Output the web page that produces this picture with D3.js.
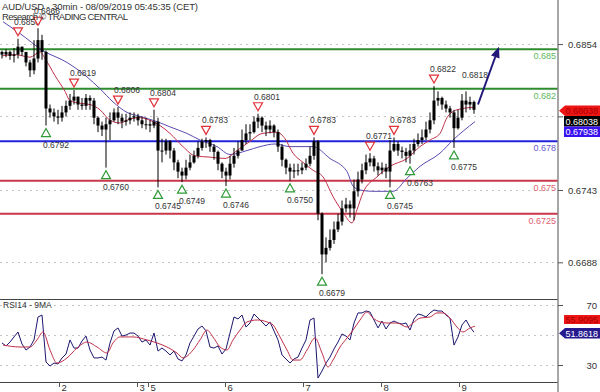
<!DOCTYPE html>
<html><head><meta charset="utf-8">
<script src="https://cdn.jsdelivr.net/npm/d3@7"></script>
<style>body{margin:0;background:#fff;}svg{display:block;font-family:"Liberation Sans",Arial,sans-serif;}</style>
</head><body><svg id="c" width="600" height="392"></svg>
<script>
// ---------- DATA ----------
const title = "AUD/USD - 30min - 08/09/2019 05:45:35 (CET)";
const subtitle = "Research \u00A9 TRADING CENTRAL";
const firstOpen = 0.6848;
const closes = [0.6846,0.6848,0.6845,0.6846,0.6852,0.6848,0.6840,0.6834,0.6843,0.6857,
 0.6848,0.6805,0.6802,0.6799,0.6798,0.6802,0.6807,0.6811,0.6814,0.6808,
 0.6807,0.6813,0.6811,0.6798,0.6792,0.6789,0.6793,0.6796,0.6802,0.6798,
 0.6795,0.6796,0.6798,0.6799,0.6796,0.6793,0.6793,0.6792,0.6795,0.6773,
 0.6773,0.6780,0.6773,0.6764,0.6757,0.6754,0.6760,0.6764,0.6769,0.6775,
 0.6780,0.6781,0.6776,0.6772,0.6763,0.6757,0.6754,0.6763,0.6769,0.6773,
 0.6781,0.6786,0.6787,0.6795,0.6798,0.6792,0.6789,0.6792,0.6787,0.6776,
 0.6766,0.6760,0.6757,0.6758,0.6758,0.6760,0.6763,0.6769,0.6780,0.6725,
 0.6694,0.6699,0.6705,0.6713,0.6719,0.6729,0.6732,0.6729,0.6742,0.6751,
 0.6758,0.6764,0.6767,0.6761,0.6758,0.6760,0.6757,0.6773,0.6778,0.6773,
 0.6772,0.6769,0.6773,0.6778,0.6781,0.6783,0.6789,0.6796,0.6811,0.6813,
 0.6808,0.6805,0.6802,0.6790,0.6798,0.6811,0.6808,0.6810,0.6804];
const highs = [0.6849,0.6850,0.6849,0.6851,0.6858,0.6852,0.6848,0.6842,0.6857,0.6866,
 0.6861,0.6849,0.6808,0.6805,0.6804,0.6807,0.6811,0.6816,0.6819,0.6814,
 0.6813,0.6816,0.6815,0.6813,0.6799,0.6795,0.6798,0.6802,0.6805,0.6806,
 0.6801,0.6801,0.6802,0.6802,0.6801,0.6799,0.6798,0.6796,0.6804,0.6798,
 0.6782,0.6782,0.6781,0.6775,0.6766,0.6760,0.6766,0.6770,0.6773,0.6780,
 0.6782,0.6783,0.6782,0.6778,0.6773,0.6764,0.6760,0.6769,0.6775,0.6780,
 0.6789,0.6793,0.6793,0.6799,0.6801,0.6799,0.6795,0.6796,0.6793,0.6789,
 0.6778,0.6767,0.6763,0.6763,0.6763,0.6764,0.6767,0.6776,0.6783,0.6781,
 0.6726,0.6707,0.6713,0.6719,0.6725,0.6735,0.6737,0.6735,0.6751,0.6757,
 0.6763,0.6770,0.6771,0.6769,0.6764,0.6764,0.6763,0.6781,0.6783,0.6780,
 0.6776,0.6775,0.6778,0.6782,0.6786,0.6789,0.6795,0.6802,0.6822,0.6818,
 0.6814,0.6811,0.6807,0.6804,0.6804,0.6816,0.6818,0.6814,0.6811];
const lows = [0.6843,0.6844,0.6842,0.6840,0.6843,0.6845,0.6837,0.6829,0.6831,0.6840,
 0.6842,0.6792,0.6798,0.6795,0.6793,0.6795,0.6799,0.6804,0.6808,0.6804,
 0.6804,0.6804,0.6804,0.6793,0.6787,0.6784,0.6760,0.6781,0.6795,0.6793,
 0.6790,0.6792,0.6793,0.6795,0.6792,0.6790,0.6789,0.6787,0.6790,0.6745,
 0.6764,0.6770,0.6767,0.6758,0.6752,0.6749,0.6751,0.6758,0.6763,0.6767,
 0.6773,0.6775,0.6772,0.6766,0.6758,0.6752,0.6746,0.6751,0.6760,0.6767,
 0.6773,0.6778,0.6781,0.6786,0.6790,0.6787,0.6784,0.6786,0.6783,0.6772,
 0.6761,0.6755,0.6750,0.6752,0.6754,0.6755,0.6758,0.6761,0.6766,0.6720,
 0.6679,0.6688,0.6697,0.6702,0.6711,0.6716,0.6726,0.6722,0.6720,0.6738,
 0.6748,0.6755,0.6761,0.6757,0.6754,0.6755,0.6752,0.6745,0.6772,0.6769,
 0.6767,0.6764,0.6763,0.6770,0.6776,0.6778,0.6781,0.6786,0.6793,0.6807,
 0.6804,0.6802,0.6798,0.6775,0.6789,0.6796,0.6802,0.6804,0.6801];

const maFastIdx = [0,3.25,7,9.5,10.75,13.25,15.75,17,19.5,22,24.5,27,29.5,32,34.5,37,39.5,42,45.25,48.25,52,55.75,58.75,62,65,68.75,70.75,72.75,75.25,77.75,80.25,82.75,85.25,87.5,88.75,90.25,93.75,97,101.25,104.5,107,109.5,111.25,113.75,118.25];
const maFastVal = [0.6845,0.6846,0.6844,0.6848,0.6843,0.6830,0.6818,0.6811,0.6809,0.6808,0.6804,0.6796,0.6794,0.6797,0.6798,0.6796,0.6792,0.6786,0.6776,0.6769,0.6768,0.6767,0.6773,0.6780,0.6786,0.6787,0.6782,0.6771,0.6764,0.6758,0.6753,0.6738,0.6726,0.6718,0.6728,0.6741,0.6753,0.6761,0.6767,0.6776,0.6781,0.6786,0.6798,0.6804,0.6806];
const maSlowIdx = [0.25,4.5,10.25,16.25,21.25,24.5,27.75,31.25,34.5,38.75,42,46.25,49.5,53.75,57,61.25,64.5,68.25,72,75,77.75,82,86.25,87.75,89.5,92.75,97.75,101.25,104.5,109.5,112.75,118.25];
const maSlowVal = [0.6871,0.6862,0.6849,0.6840,0.6829,0.6820,0.6810,0.6802,0.6799,0.6795,0.6791,0.6786,0.6781,0.6776,0.6770,0.6773,0.6776,0.6778,0.6776,0.6776,0.6776,0.6767,0.6757,0.6746,0.6743,0.6742,0.6742,0.6752,0.6761,0.6771,0.6781,0.6795];

const rsi = [44.7,42.7,45.3,48.7,52.0,44.0,40.0,42.0,46.7,62.0,
 63.3,32.0,29.3,31.3,30.7,34.7,37.3,46.7,41.3,41.3,
 46.0,49.3,40.0,34.7,34.7,35.3,33.3,44.7,52.7,54.7,
 49.3,50.0,51.3,51.3,49.3,45.3,46.7,43.3,51.3,39.3,
 41.3,39.3,36.7,39.3,34.0,32.7,36.7,44.7,49.3,54.0,
 56.0,52.7,42.0,41.3,42.7,37.3,40.7,51.3,62.0,60.7,
 63.3,55.3,58.0,64.0,61.3,58.7,56.0,58.7,52.7,46.7,
 36.7,34.0,31.3,34.0,35.3,41.3,46.7,60.0,61.3,21.3,
 26.0,31.3,35.3,40.7,45.3,50.7,49.3,46.7,58.0,64.7,
 64.7,66.0,65.3,60.0,54.7,59.3,54.0,58.0,59.3,58.0,
 57.3,58.0,53.3,60.7,64.0,63.3,62.0,64.7,66.7,66.0,
 66.0,63.3,61.3,43.3,48.7,56.7,60.0,55.3,51.8618];
const rsiMaIdx = [0.25,4.5,7,8.75,10.25,12,13.75,16.25,18.75,21.25,23.75,26.25,27.75,29.5,32.75,36.25,38.75,41.25,43.75,45.25,47.75,49.5,51.25,52.75,54.5,56.25,57.75,59.5,61.25,63.75,66.25,67.75,69.5,71.25,72.75,74.5,76.25,78.25,80,81.5,82.75,84.5,86.25,87.75,89.5,91.25,92.75,94.5,96.25,98.75,101.25,102.75,104.5,107,108.75,110.25,112,113.75,115.25,117,118.25];
const rsiMaVal = [43.3,42.0,42.0,46.7,52.0,40.0,31.3,34.7,41.3,45.3,42.0,38.0,44.7,48.7,48.7,46.7,44.7,42.0,38.0,34.7,40.0,46.7,53.3,48.7,42.0,40.0,46.7,53.3,58.7,60.0,58.7,56.7,48.7,40.0,33.3,33.3,40.0,48.0,38.0,28.7,33.3,42.0,48.0,53.3,60.0,65.3,61.3,58.7,58.0,58.0,55.3,58.0,61.3,62.0,64.7,64.7,61.3,55.3,52.0,54.7,55.9095];

const levels = [0.685, 0.682, 0.678, 0.675, 0.6725];
const levelLabels = ["0.685", "0.682", "0.678", "0.675", "0.6725"];
const levelKinds = ["res", "res", "pivot", "sup", "sup"];

const priceTicks = [0.6854, 0.6799, 0.6743, 0.6688];
const priceTickLabels = ["0.6854", "", "0.6743", "0.6688"]; // 0.6799 sits under the price tags
const rsiTicks = [70, 50, 30];
const rsiTickLabels = ["70", "", "30"];
const dayTickIdx = [14.25, 33.75, 36.5, 55.75, 75.25, 94.75, 114.25];
const dayLabels = ["2", "3", "5", "6", "7", "8", "9"];

const highMarkIdx = [4, 9, 18, 29, 38, 51, 64, 78, 92, 98, 108];
const highMarkVal = [0.6858, 0.6866, 0.6819, 0.6806, 0.6804, 0.6783, 0.6801, 0.6783, 0.6771, 0.6783, 0.6822];
const lowMarkIdx = [11, 26, 39, 45, 56, 72, 80, 97, 102, 113];
const lowMarkVal = [0.6792, 0.6760, 0.6745, 0.6749, 0.6746, 0.6750, 0.6679, 0.6745, 0.6763, 0.6775];
const plainLabelIdx = [116];
const plainLabelVal = [0.6818];

const forecastIdx = [119, 124.25];
const forecastVal = [0.6808, 0.6852];

const priceTagVals = ["0.68038", "0.68038", "0.67938"];
const rsiTagVals = ["55.9095", "51.8618"];

// ---------- LAYOUT ----------
const W = 600, H = 392;
const axisX = 558;
const mainTop = 0, mainBot = 299, rsiTop = 299, rsiBot = 382;
const svg = d3.select("#c");

const x = d3.scaleLinear().domain([0, 118]).range([2, 474]);
const y = d3.scaleLinear().domain([0.66601, 0.68875]).range([mainBot, mainTop]);
const yr = d3.scaleLinear().domain([18.667, 74]).range([rsiBot, rsiTop]);

const defs = svg.append("defs");
defs.append("clipPath").attr("id", "cm").append("rect").attr("x", 0).attr("y", mainTop).attr("width", axisX).attr("height", mainBot - mainTop);
defs.append("clipPath").attr("id", "cr").append("rect").attr("x", 0).attr("y", rsiTop).attr("width", axisX).attr("height", rsiBot - rsiTop);

const gridColor = "#c4c4c4";
const gm = svg.append("g").attr("clip-path", "url(#cm)");
gm.selectAll("line.grid").data(priceTicks).join("line")
  .attr("x1", 0).attr("x2", axisX).attr("y1", d => Math.round(y(d)) + 0.5).attr("y2", d => Math.round(y(d)) + 0.5)
  .attr("stroke", gridColor).attr("stroke-dasharray", "2,4");

const levelColor = {res: "#2e8b2e", pivot: "#2323d8", sup: "#c8374a"};
const levelText = {res: "#5cb85c", pivot: "#6a5ad0", sup: "#e06070"};
gm.selectAll("line.lvl").data(levels).join("line")
  .attr("x1", 0).attr("x2", axisX).attr("y1", d => y(d)).attr("y2", d => y(d))
  .attr("stroke", (d, i) => levelColor[levelKinds[i]]).attr("stroke-width", 2);

const maLine = d3.line().x(d => x(d[0])).y(d => y(d[1])).curve(d3.curveMonotoneX);
gm.append("path").datum(maSlowIdx.map((d, i) => [d, maSlowVal[i]]))
  .attr("d", maLine).attr("fill", "none").attr("stroke", "#5b4bb0").attr("stroke-width", 1);
gm.append("path").datum(maFastIdx.map((d, i) => [d, maFastVal[i]]))
  .attr("d", maLine).attr("fill", "none").attr("stroke", "#c0304a").attr("stroke-width", 1);

const candles = closes.map((c, i) => ({i, o: i === 0 ? firstOpen : closes[i - 1], c, h: highs[i], l: lows[i]}));
const cg = gm.append("g");
cg.selectAll("rect.wick").data(candles).join("rect")
  .attr("x", d => x(d.i) - 0.5).attr("width", 1)
  .attr("y", d => y(d.h)).attr("height", d => Math.max(1, y(d.l) - y(d.h)))
  .attr("fill", "#000");
cg.selectAll("rect.body").data(candles).join("rect")
  .attr("x", d => x(d.i) - 1.5).attr("width", 3)
  .attr("y", d => y(Math.max(d.o, d.c))).attr("height", d => Math.max(1, Math.abs(y(d.o) - y(d.c))))
  .attr("fill", "#000");

gm.selectAll("text.lvl").data(levels).join("text")
  .attr("x", axisX - 2).attr("y", d => y(d) + 10).attr("text-anchor", "end")
  .attr("font-size", 9).attr("fill", (d, i) => levelText[levelKinds[i]]).text((d, i) => levelLabels[i]);

const tri = (cx, cy, up) => up
  ? `M${cx - 4.5},${cy + 4} L${cx + 4.5},${cy + 4} L${cx},${cy - 4} Z`
  : `M${cx - 4.5},${cy - 4} L${cx + 4.5},${cy - 4} L${cx},${cy + 4} Z`;
highMarkIdx.forEach((idx, k) => {
  const cx = x(idx), cy = y(highMarkVal[k]) - 7;
  gm.append("path").attr("d", tri(cx, cy, false)).attr("fill", "#fff").attr("stroke", "#e0323a").attr("stroke-width", 1.2);
  gm.append("text").attr("x", cx - 4).attr("y", cy - 7).attr("font-size", 8.5).attr("fill", "#333").text(highMarkVal[k].toFixed(4));
});
lowMarkIdx.forEach((idx, k) => {
  const cx = x(idx), cy = y(lowMarkVal[k]) + 7;
  gm.append("path").attr("d", tri(cx, cy, true)).attr("fill", "#fff").attr("stroke", "#2e9a35").attr("stroke-width", 1.2);
  gm.append("text").attr("x", cx - 3).attr("y", cy + 15).attr("font-size", 8.5).attr("fill", "#333").text(lowMarkVal[k].toFixed(4));
});
plainLabelIdx.forEach((idx, k) => {
  gm.append("text").attr("x", x(idx) - 4).attr("y", y(plainLabelVal[k]) - 13).attr("font-size", 8.5).attr("fill", "#333").text(plainLabelVal[k].toFixed(4));
});

const fx0 = x(forecastIdx[0]), fy0 = y(forecastVal[0]), fx1 = x(forecastIdx[1]), fy1 = y(forecastVal[1]);
const ang = Math.atan2(fy1 - fy0, fx1 - fx0);
const ah = 11, aw = 4.5;
const bx = fx1 - ah * Math.cos(ang), by = fy1 - ah * Math.sin(ang);
gm.append("line").attr("x1", fx0).attr("y1", fy0).attr("x2", bx).attr("y2", by).attr("stroke", "#22187a").attr("stroke-width", 2);
gm.append("path").attr("d", `M${fx1},${fy1} L${bx + aw * Math.sin(ang)},${by - aw * Math.cos(ang)} L${bx - aw * Math.sin(ang)},${by + aw * Math.cos(ang)} Z`).attr("fill", "#22187a");

svg.append("text").attr("x", 2).attr("y", 9.5).attr("font-size", 9.5).attr("fill", "#333")
  .attr("textLength", 196).attr("lengthAdjust", "spacing").text(title);
svg.append("text").attr("x", 2).attr("y", 20).attr("font-size", 9.5).attr("fill", "#333")
  .attr("textLength", 126).attr("lengthAdjust", "spacing").text(subtitle);

// ---------- RSI PANEL ----------
const gr = svg.append("g").attr("clip-path", "url(#cr)");
gr.selectAll("line").data(rsiTicks).join("line")
  .attr("x1", 0).attr("x2", axisX).attr("y1", d => Math.round(yr(d)) + 0.5).attr("y2", d => Math.round(yr(d)) + 0.5)
  .attr("stroke", gridColor).attr("stroke-dasharray", "2,4");
gr.append("path").datum(rsi.map((v, i) => [i, v]))
  .attr("d", d3.line().x(d => x(d[0])).y(d => yr(d[1])))
  .attr("fill", "none").attr("stroke", "#1c1670").attr("stroke-width", 1);
gr.append("path").datum(rsiMaIdx.map((d, i) => [d, rsiMaVal[i]]))
  .attr("d", d3.line().x(d => x(d[0])).y(d => yr(d[1])).curve(d3.curveMonotoneX))
  .attr("fill", "none").attr("stroke", "#c0304a").attr("stroke-width", 1);
svg.append("text").attr("x", 3).attr("y", 308).attr("font-size", 8.5).attr("fill", "#333").text("RSI14 - 9MA");

svg.append("line").attr("x1", 0).attr("x2", axisX).attr("y1", mainBot + 0.5).attr("y2", mainBot + 0.5).attr("stroke", "#444");
svg.append("line").attr("x1", 0).attr("x2", axisX).attr("y1", rsiBot + 0.5).attr("y2", rsiBot + 0.5).attr("stroke", "#444");
svg.append("line").attr("x1", axisX).attr("x2", axisX).attr("y1", 0).attr("y2", H).attr("stroke", "#8a8a8a").attr("stroke-width", 1.5);

const axP = svg.append("g").attr("transform", `translate(${axisX},0)`)
  .call(d3.axisRight(y).tickValues(priceTicks).tickSize(5).tickFormat((d, i) => priceTickLabels[i]));
const axR = svg.append("g").attr("transform", `translate(${axisX},0)`)
  .call(d3.axisRight(yr).tickValues([70, 30]).tickSize(5).tickFormat(d => rsiTickLabels[rsiTicks.indexOf(d)]));
[axP, axR].forEach(a => {
  a.select(".domain").remove();
  a.selectAll("line").attr("stroke", "#555");
  a.selectAll("text").attr("x", 39).attr("text-anchor", "end").attr("font-size", 9.5).attr("fill", "#333").attr("font-family", "Liberation Sans, Arial, sans-serif");
});

const axB = svg.append("g").attr("transform", `translate(0,${rsiBot})`)
  .call(d3.axisBottom(x).tickValues(dayTickIdx).tickSize(5).tickFormat((d, i) => dayLabels[i]));
axB.select(".domain").remove();
axB.selectAll("line").attr("stroke", "#555");
axB.selectAll("text").attr("x", 2).attr("y", 8.5).attr("dy", null).attr("text-anchor", "start").attr("font-size", 9.5).attr("fill", "#333").attr("font-family", "Liberation Sans, Arial, sans-serif");

function tag(yTop, h, bg, fg, txt, arrow) {
  const g = svg.append("g");
  const x0 = 565, x1 = 600;
  if (arrow) {
    g.append("path").attr("d", `M${axisX + 1},${yTop + h / 2} L${x0},${yTop} L${x1},${yTop} L${x1},${yTop + h} L${x0},${yTop + h} Z`).attr("fill", bg);
  } else {
    g.append("rect").attr("x", x0 - 1).attr("y", yTop).attr("width", x1 - x0 + 1).attr("height", h).attr("fill", bg);
  }
  g.append("text").attr("x", 598).attr("y", yTop + h / 2 + 3.3).attr("text-anchor", "end").attr("font-size", 9).attr("fill", fg).text(txt);
}
tag(105.5, 10.5, "#ee1515", "#a80000", priceTagVals[0], true);
tag(116, 10.5, "#000", "#fff", priceTagVals[1], false);
tag(126.5, 10.5, "#3a12f0", "#fff", priceTagVals[2], false);
tag(315, 9, "#ee1515", "#a80000", rsiTagVals[0], false);
tag(328, 10.5, "#261a8e", "#fff", rsiTagVals[1], true);
</script></body></html>
